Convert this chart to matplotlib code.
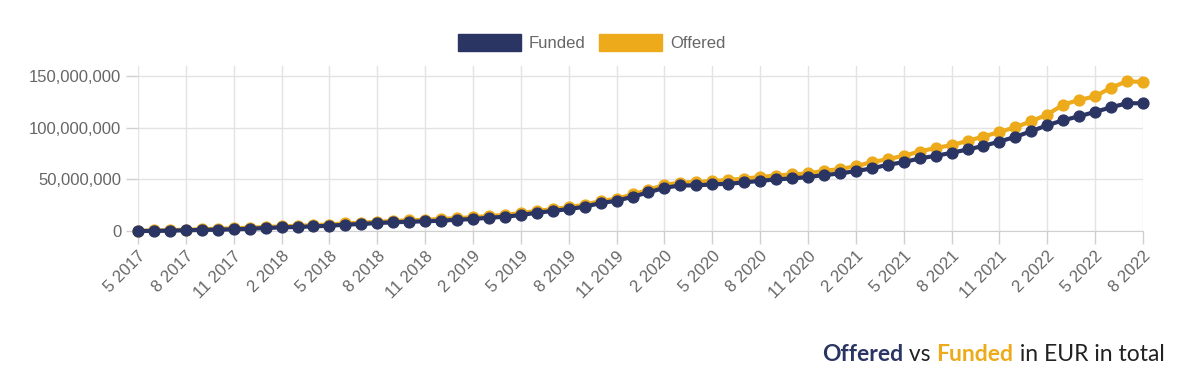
import matplotlib.pyplot as plt
from matplotlib.patches import Patch
from matplotlib.ticker import FuncFormatter
import matplotlib.transforms as mtransforms

# monthly totals (million EUR), May 2017 .. Aug 2022
funded = [0.0, 0.1, 0.3, 0.7, 1.0, 1.3, 1.6, 2.2, 2.9, 3.5,
          3.9, 4.5, 5.1, 6.1, 6.8, 7.7, 8.4, 9.0, 9.4, 10.0,
          10.9, 11.6, 12.9, 13.8, 15.5, 17.7, 19.4, 21.3, 23.5, 27.1,
          29.3, 33.2, 37.5, 41.9, 44.2, 44.2, 45.2, 45.8, 47.1, 48.7,
          50.0, 51.0, 52.3, 54.2, 55.8, 58.1, 60.7, 64.2, 66.8, 70.4,
          72.9, 75.8, 79.1, 82.5, 86.8, 91.3, 96.8, 102.6, 107.4, 111.3,
          115.5, 120.0, 123.9, 123.9]
offered = [0.2, 0.5, 0.8, 1.3, 1.7, 2.2, 2.6, 3.2, 3.9, 4.5,
           5.0, 5.6, 6.3, 7.3, 8.0, 9.0, 9.7, 10.4, 10.9, 11.6,
           12.5, 13.3, 14.6, 15.6, 17.3, 19.5, 21.2, 23.1, 25.4, 29.0,
           31.3, 35.4, 40.0, 44.6, 47.0, 47.4, 48.6, 49.4, 50.8, 52.4,
           53.8, 54.8, 55.8, 58.4, 60.0, 62.9, 66.8, 69.7, 72.9, 77.1,
           80.6, 83.2, 87.4, 91.6, 96.1, 100.6, 106.5, 112.9, 122.6, 127.1,
           130.6, 139.1, 145.2, 144.5]
tick_labels = ["5 2017", "8 2017", "11 2017", "2 2018", "5 2018", "8 2018",
               "11 2018", "2 2019", "5 2019", "8 2019", "11 2019", "2 2020",
               "5 2020", "8 2020", "11 2020", "2 2021", "5 2021", "8 2021",
               "11 2021", "2 2022", "5 2022", "8 2022"]

navy = "#2b3563"
gold = "#edab1b"
grid_c = "#e3e3e3"

plt.rcParams['font.family'] = ['Liberation Sans', 'DejaVu Sans']

x = list(range(len(funded)))
f_eur = [v * 1e6 for v in funded]
o_eur = [v * 1e6 for v in offered]

fig = plt.figure(figsize=(12, 3.9), dpi=100)
ax = fig.add_axes([0.115, 0.4077, 0.8375, 0.423])

ax.plot(x, o_eur, color=gold, lw=3, marker="o", ms=7.8, clip_on=False, zorder=3)
ax.plot(x, f_eur, color=navy, lw=3, marker="o", ms=7.8, clip_on=False, zorder=4)

ax.set_xlim(0, len(funded) - 1)
ax.set_ylim(0, 160e6)
ax.set_yticks([0, 50e6, 100e6, 150e6])
ax.yaxis.set_major_formatter(FuncFormatter(lambda v, p: f"{int(v):,}"))
ax.set_xticks(x[::3])
ax.set_xticklabels(tick_labels, rotation=45, ha="right", va="top",
                   rotation_mode="anchor")
offset = mtransforms.ScaledTranslation(11 / 100, -3 / 100, fig.dpi_scale_trans)
for lab in ax.get_xticklabels():
    lab.set_transform(lab.get_transform() + offset)

ax.grid(True, color=grid_c, lw=1)
ax.set_axisbelow(True)
for s in ["top", "right", "left"]:
    ax.spines[s].set_visible(False)
ax.spines["bottom"].set_color("#d0d0d0")
ax.tick_params(axis="both", colors="#d0d0d0", labelcolor="#666666",
               labelsize=12, length=9, width=1)
ax.tick_params(axis="y", pad=3)

handles = [Patch(color=navy, label="Funded"), Patch(color=gold, label="Offered")]
fig.legend(handles=handles, loc="center", bbox_to_anchor=(0.493, 0.891), ncol=2,
           frameon=False, fontsize=12, handlelength=3.8, handleheight=1.26,
           handletextpad=0.45, columnspacing=0.8, labelcolor="#666666")

# caption at the bottom right
cap = dict(fontsize=16.5, family="Lato", va="bottom", annotation_clip=False)
t1 = ax.annotate("Offered", xy=(0.685, 0.065), xycoords="figure fraction",
                 color=navy, fontweight="bold", **cap)
t2 = ax.annotate(" vs ", xy=(1, 0), xycoords=t1, color="#222222", **cap)
t3 = ax.annotate("Funded", xy=(1, 0), xycoords=t2, color=gold,
                 fontweight="bold", **cap)
ax.annotate(" in EUR in total", xy=(1, 0), xycoords=t3, color="#222222", **cap)

fig.savefig("out.png", dpi=100)
